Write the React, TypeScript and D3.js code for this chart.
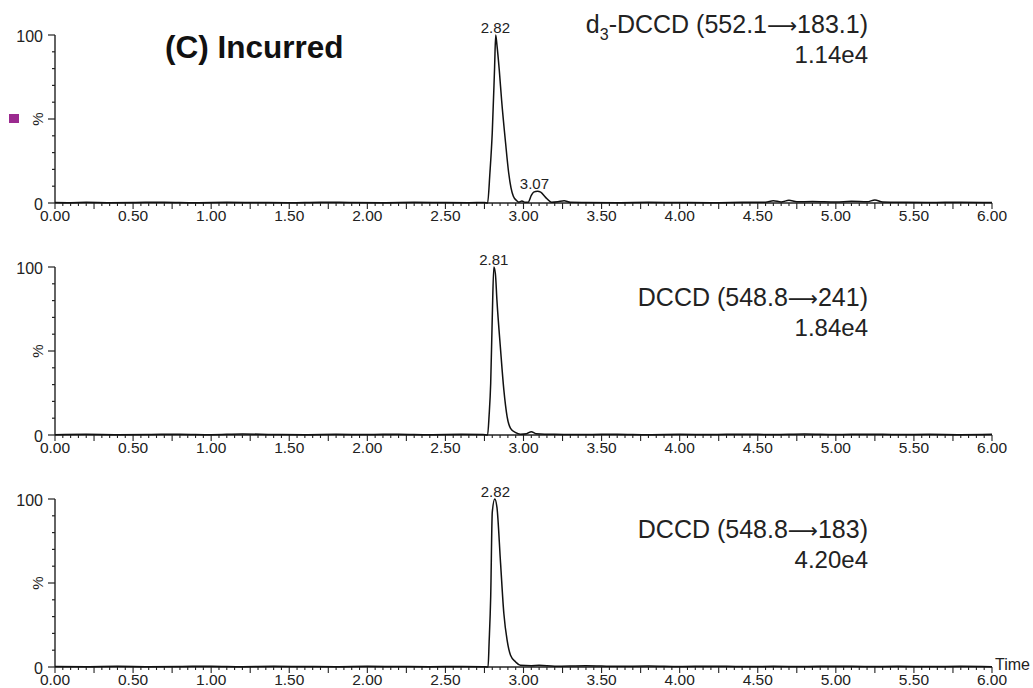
import React, { useEffect, useRef } from 'react';
import * as d3 from 'd3';

// retention time (min), relative intensity (%)
const traceD3Dccd: [number, number][] = [
  [0, 0.3], [0.1, 0.2], [0.2, 0.4], [0.35, 0.2], [0.5, 0.3], [0.7, 0.5], [0.9, 0.2], [1.1, 0.4],
  [1.3, 0.3], [1.5, 0.2], [1.7, 0.5], [1.9, 0.3], [2.1, 0.2], [2.3, 0.4], [2.5, 0.3], [2.65, 0.2],
  [2.75, 0.3], [2.77, 0], [2.785, 18], [2.8, 42], [2.815, 81], [2.822, 100], [2.83, 94], [2.845, 79],
  [2.86, 61], [2.885, 36], [2.905, 18], [2.92, 9], [2.935, 4], [2.955, 1.5], [2.97, 0.5], [2.99, 1.2],
  [3.01, 0.4], [3.03, 0.5], [3.05, 4.5], [3.065, 6.5], [3.09, 7], [3.11, 6.5], [3.14, 3.5], [3.18, 0.5],
  [3.22, 0.8], [3.26, 1.4], [3.3, 0.4], [3.4, 0.3], [3.6, 0.2], [3.8, 0.4], [4.0, 0.3], [4.2, 0.2],
  [4.4, 0.4], [4.55, 0.5], [4.6, 1.4], [4.65, 0.6], [4.7, 1.6], [4.75, 0.7], [4.85, 0.9], [5.0, 0.6],
  [5.1, 1.0], [5.2, 0.7], [5.25, 1.8], [5.3, 0.6], [5.45, 0.4], [5.6, 0.3], [5.8, 0.5], [6.0, 0.3],
];

const traceDccd241: [number, number][] = [
  [0, 0.2], [0.2, 0.4], [0.4, 0.2], [0.6, 0.3], [0.8, 0.5], [1.0, 0.2], [1.2, 0.6], [1.4, 0.3],
  [1.6, 0.2], [1.8, 0.4], [2.0, 0.3], [2.2, 0.5], [2.4, 0.2], [2.6, 0.4], [2.74, 0.3], [2.77, 0],
  [2.78, 12], [2.79, 31], [2.8, 70], [2.81, 100], [2.82, 96], [2.83, 80], [2.853, 51], [2.874, 27],
  [2.895, 11], [2.917, 4], [2.95, 1.4], [2.98, 0.5], [3.02, 0.8], [3.05, 2], [3.08, 0.8], [3.2, 0.4],
  [3.4, 0.3], [3.6, 0.5], [3.8, 0.2], [4.0, 0.4], [4.2, 0.3], [4.4, 0.5], [4.6, 0.3], [4.8, 0.6],
  [5.0, 0.3], [5.2, 0.5], [5.4, 0.3], [5.6, 0.4], [5.8, 0.2], [6.0, 0.4],
];

const traceDccd183: [number, number][] = [
  [0, 0.3], [0.2, 0.2], [0.4, 0.4], [0.6, 0.2], [0.8, 0.3], [1.0, 0.5], [1.2, 0.2], [1.4, 0.4],
  [1.6, 0.3], [1.8, 0.2], [2.0, 0.4], [2.2, 0.3], [2.4, 0.2], [2.6, 0.3], [2.74, 0.2], [2.773, 0],
  [2.78, 15], [2.79, 42], [2.8, 92], [2.816, 100], [2.83, 95], [2.853, 62], [2.874, 32], [2.895, 16],
  [2.917, 7], [2.95, 3], [2.98, 1], [3.05, 0.8], [3.1, 1], [3.2, 0.5], [3.4, 0.8], [3.6, 0.4],
  [3.8, 0.6], [4.0, 0.3], [4.2, 0.5], [4.4, 0.3], [4.6, 0.4], [4.8, 0.3], [5.0, 0.5], [5.2, 0.3],
  [5.4, 0.4], [5.6, 0.3], [5.8, 0.4], [6.0, 0.2],
];

// channel title split around the arrow
const titleLeft = ['-DCCD (552.1', 'DCCD (548.8', 'DCCD (548.8'];
const titleRight = ['183.1)', '241)', '183)'];
const panelIntensities = ['1.14e4', '1.84e4', '4.20e4'];
const peakLabels: [number, string][][] = [
  [[2.82, '2.82'], [3.07, '3.07']],
  [[2.81, '2.81']],
  [[2.82, '2.82']],
];
const xTickLabels = ['0.00', '0.50', '1.00', '1.50', '2.00', '2.50', '3.00', '3.50', '4.00', '4.50', '5.00', '5.50', '6.00'];
const yTickLabels = ['0', '100'];

const traces = [traceD3Dccd, traceDccd241, traceDccd183];

const App = () => {
  const svgRef = useRef<SVGSVGElement>(null);

  useEffect(() => {
    const width = 1033;
    const height = 688;
    const left = 55;
    const right = 992;
    const panelTops = [35, 267, 499];
    const titleOffsets = [-2, 39, 39];
    const panelH = 168;
    const font = 'Liberation Sans, Arial, sans-serif';

    const svg = d3.select(svgRef.current).attr('width', width).attr('height', height);
    svg.selectAll('*').remove();

    const x = d3.scaleLinear().domain([0, 6]).range([left, right]);

    traces.forEach((trace, i) => {
      const top = panelTops[i];
      const y = d3.scaleLinear().domain([0, 100]).range([top + panelH, top]);
      const g = svg.append('g');

      // y axis
      g.append('line')
        .attr('x1', left).attr('x2', left)
        .attr('y1', y(100)).attr('y2', y(0))
        .attr('stroke', '#222').attr('stroke-width', 1.4);
      d3.range(0, 101, 10).forEach((v) => {
        const len = v % 50 === 0 ? 7 : 3;
        g.append('line')
          .attr('x1', left - len).attr('x2', left)
          .attr('y1', y(v)).attr('y2', y(v))
          .attr('stroke', '#222').attr('stroke-width', 1.2);
      });
      yTickLabels.forEach((t) => {
        g.append('text')
          .attr('x', 43).attr('y', y(+t) + 7)
          .attr('text-anchor', 'end')
          .attr('font-family', font).attr('font-size', 16)
          .attr('fill', '#222')
          .text(t);
      });
      g.append('text')
        .attr('transform', `translate(43,${y(50)}) rotate(-90)`)
        .attr('text-anchor', 'middle')
        .attr('font-family', font).attr('font-size', 15)
        .attr('fill', '#222')
        .text('%');

      // x axis
      g.append('line')
        .attr('x1', left).attr('x2', right)
        .attr('y1', y(0)).attr('y2', y(0))
        .attr('stroke', '#222').attr('stroke-width', 1.4);
      d3.range(0, 121).forEach((k) => {
        const len = k % 5 === 0 ? 6 : 3;
        g.append('line')
          .attr('x1', x(k * 0.05)).attr('x2', x(k * 0.05))
          .attr('y1', y(0)).attr('y2', y(0) + len)
          .attr('stroke', '#222').attr('stroke-width', 1.1);
      });
      xTickLabels.forEach((t) => {
        g.append('text')
          .attr('x', x(+t)).attr('y', y(0) + 18)
          .attr('text-anchor', 'middle')
          .attr('font-family', font).attr('font-size', 15.5)
          .attr('fill', '#222')
          .text(t);
      });

      // trace
      const line = d3.line<[number, number]>()
        .x((d) => x(d[0]))
        .y((d) => y(d[1]))
        .curve(d3.curveMonotoneX);
      g.append('path')
        .datum(trace)
        .attr('d', line)
        .attr('fill', 'none')
        .attr('stroke', '#111')
        .attr('stroke-width', 1.5);

      // peak labels
      peakLabels[i].forEach(([t, label]) => {
        const peak = d3.max(trace.filter((d) => Math.abs(d[0] - t) < 0.06), (d) => d[1]) ?? 0;
        g.append('text')
          .attr('x', x(t)).attr('y', y(peak) - 2)
          .attr('text-anchor', 'middle')
          .attr('font-family', font).attr('font-size', 15)
          .attr('fill', '#222')
          .text(label);
      });

      // channel title
      const title = g.append('text')
        .attr('x', 868).attr('y', top + titleOffsets[i])
        .attr('text-anchor', 'end')
        .attr('font-family', font).attr('font-size', 25)
        .attr('fill', '#222');
      if (i === 0) {
        title.append('tspan').text('d');
        title.append('tspan').attr('font-size', 16).attr('dy', 7).text('3');
        title.append('tspan').attr('dy', -7).text(titleLeft[i]);
      } else {
        title.append('tspan').text(titleLeft[i]);
      }
      title.append('tspan').attr('font-family', 'DejaVu Sans, sans-serif').attr('font-size', 21).text('⟶');
      title.append('tspan').text(titleRight[i]);

      g.append('text')
        .attr('x', 868).attr('y', top + titleOffsets[i] + 30)
        .attr('text-anchor', 'end')
        .attr('font-family', font).attr('font-size', 24)
        .attr('fill', '#222')
        .text(panelIntensities[i]);
    });

    svg.append('text')
      .attr('x', 165).attr('y', 58)
      .attr('font-family', font).attr('font-size', 31.5).attr('font-weight', 'bold')
      .attr('fill', '#111')
      .text('(C) Incurred');

    svg.append('rect')
      .attr('x', 9).attr('y', 114).attr('width', 10).attr('height', 9)
      .attr('fill', '#9b2a8f');

    svg.append('text')
      .attr('x', right + 3).attr('y', panelTops[2] + panelH + 3)
      .attr('font-family', font).attr('font-size', 16)
      .attr('fill', '#222')
      .text('Time');
  }, []);

  return (
    <div style={{ position: 'absolute', left: 0, top: 0, background: '#fff' }}>
      <svg ref={svgRef}></svg>
    </div>
  );
};

export default App;
